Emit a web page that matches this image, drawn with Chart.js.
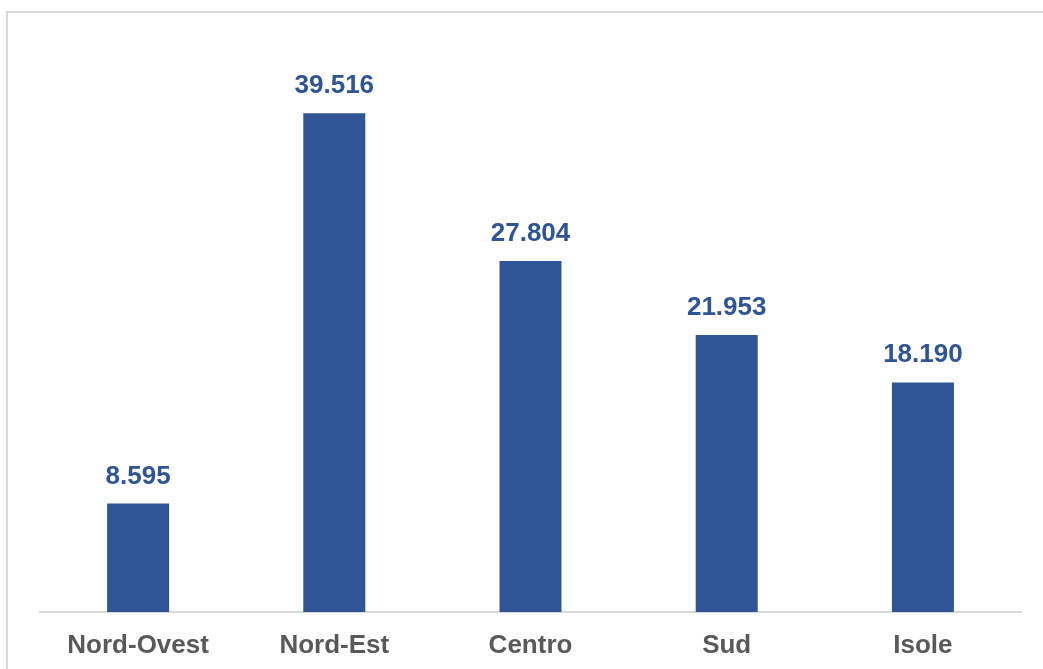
<!DOCTYPE html>
<html>
<head>
<meta charset="utf-8">
<script src="https://cdn.jsdelivr.net/npm/chart.js@4.4.0/dist/chart.umd.min.js"></script>
<style>
  html, body { margin: 0; padding: 0; background: #ffffff; }
  #wrap { position: relative; width: 1043px; height: 669px; overflow: hidden; }
  #frame { position: absolute; left: 6px; top: 11px; width: 1100px; height: 700px;
           border-top: 2px solid #d9d9d9; border-left: 2px solid #d9d9d9; box-sizing: border-box; }
  canvas { position: absolute; left: 0; top: 0; }
</style>
</head>
<body>
<div id="wrap">
  <div id="frame"></div>
  <canvas id="c" width="1043" height="669"></canvas>
</div>
<script>
const categories = ['Nord-Ovest', 'Nord-Est', 'Centro', 'Sud', 'Isole'];
const values = [8595, 39516, 27804, 21953, 18190];

const BAR = '#2f5597';
const TXT = '#595959';
const FONT = "'Liberation Sans', Arial, sans-serif";

function fmt(v) {
  return String(v).replace(/\B(?=(\d{3})+(?!\d))/g, '.');
}

const valueLabels = {
  id: 'valueLabels',
  afterDatasetsDraw(chart) {
    const ctx = chart.ctx;
    const meta = chart.getDatasetMeta(0);
    ctx.save();
    ctx.font = "bold 26px " + FONT;
    ctx.fillStyle = BAR;
    ctx.textAlign = 'center';
    ctx.textBaseline = 'alphabetic';
    meta.data.forEach((bar, i) => {
      ctx.fillText(fmt(values[i]), bar.x, bar.y - 20);
    });
    ctx.restore();
  }
};

new Chart(document.getElementById('c'), {
  type: 'bar',
  data: {
    labels: categories,
    datasets: [{
      data: values,
      backgroundColor: BAR,
      borderWidth: 0,
      barPercentage: 0.316,
      categoryPercentage: 1
    }]
  },
  options: {
    responsive: false,
    animation: false,
    maintainAspectRatio: false,
    layout: { padding: { left: 40, right: 22, top: 44, bottom: 0 } },
    plugins: { legend: { display: false }, tooltip: { enabled: false } },
    scales: {
      x: {
        grid: { display: false, drawTicks: false },
        border: { display: true, color: '#d9d9d9', width: 2 },
        ticks: { color: TXT, font: { family: FONT, size: 26, weight: 'bold' }, padding: 18, maxRotation: 0 },
        afterFit(s) { s.height = 57; }
      },
      y: {
        display: false,
        min: 0,
        max: 45000
      }
    }
  },
  plugins: [valueLabels]
});
</script>
</body>
</html>
